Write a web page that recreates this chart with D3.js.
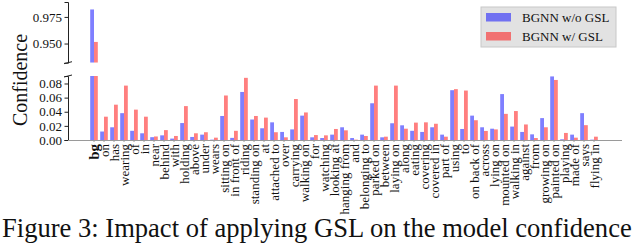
<!DOCTYPE html>
<html>
<head>
<meta charset="utf-8">
<script src="https://cdn.jsdelivr.net/npm/d3@7"></script>
<style>
  body { margin: 0; background: #fff; }
  svg { display: block; font-family: "Liberation Serif", "Times New Roman", serif; }
</style>
</head>
<body>
<div id="chart"></div>
<script>
// chart data
const categories = ["bg", "on", "has", "wearing", "of", "in", "near", "behind", "with", "holding",
  "above", "under", "wears", "sitting on", "in front of", "riding", "standing on", "at",
  "attached to", "over", "carrying", "walking on", "for", "watching", "looking at",
  "hanging from", "and", "belonging to", "parked on", "between", "laying on", "along",
  "eating", "covering", "covered in", "part of", "using", "to", "on back of", "across",
  "lying on", "mounted on", "walking in", "against", "from", "growing on", "painted on",
  "playing", "made of", "says", "flying in"];

const withoutGSL = [0.982, 0.012, 0.018, 0.038, 0.013, 0.0095, 0.004, 0.0066, 0.002, 0.024,
  0.0043, 0.0076, 0.0005, 0.034, 0.003, 0.068, 0.029, 0.0166,
  0.025, 0.0114, 0.015, 0.0345, 0.0038, 0.0028, 0.0076,
  0.018, 0.0028, 0.0076, 0.052, 0.0038, 0.0237, 0.0208,
  0.013, 0.0114, 0.018, 0.0076, 0.0705, 0.0156, 0.0345, 0.018,
  0.016, 0.065, 0.019, 0.0114, 0.008, 0.031, 0.090,
  0.001, 0.0076, 0.038, 0.0005];

const withGSL = [0.9515, 0.033, 0.050, 0.077, 0.043, 0.033, 0.005, 0.014, 0.0057, 0.048,
  0.0095, 0.011, 0.0033, 0.063, 0.013, 0.088, 0.034, 0.0317,
  0.011, 0.0038, 0.058, 0.039, 0.007, 0.0066, 0.0156,
  0.0137, 0.0005, 0.0057, 0.077, 0.0047, 0.077, 0.016,
  0.0246, 0.025, 0.023, 0.0047, 0.072, 0.070, 0.028, 0.0128,
  0.015, 0.037, 0.041, 0.022, 0.0028, 0.018, 0.085,
  0.010, 0.0033, 0.021, 0.0047];

const seriesNames = ["BGNN w/o GSL", "BGNN w/ GSL"];
const seriesColors = ["#0000ff", "#ff0000"];
const topTicks = [0.950, 0.975];
const lowTicks = [0, 0.02, 0.04, 0.06, 0.08];
const caption = "Figure 3: Impact of applying GSL on the model confidence";

let W = 640, H = 248;
let axisX = 68;

let svg = d3.select("#chart").append("svg")
  .attr("width", W)
  .attr("height", H);

let rows = categories.map((c, i) => ({cat: c, vals: [withoutGSL[i], withGSL[i]]}));

let xScale = d3.scaleBand()
  .domain(categories)
  .range([89, 599])
  .paddingInner(0.24)
  .paddingOuter(0.12);

let xSub = d3.scaleBand()
  .domain([0, 1])
  .range([0, xScale.bandwidth()]);

let yTop = d3.scaleLinear().domain([0.932, 0.989]).range([62.7, 2]);
let yLow = d3.scaleLinear().domain([0, 0.0906]).range([140, 76]);

// clip paths for the two panels
let defs = svg.append("defs");
defs.append("clipPath").attr("id", "clipTop")
  .append("rect").attr("x", axisX).attr("y", yTop.range()[1])
  .attr("width", W - axisX).attr("height", yTop.range()[0] - yTop.range()[1]);
defs.append("clipPath").attr("id", "clipLow")
  .append("rect").attr("x", axisX).attr("y", yLow.range()[1])
  .attr("width", W - axisX).attr("height", yLow.range()[0] - yLow.range()[1]);

function drawBars (yScale, clipId) {
  svg.append("g")
    .attr("clip-path", "url(#" + clipId + ")")
    .selectAll("g")
    .data(rows)
    .join("g")
    .attr("transform", d => "translate(" + xScale(d.cat) + ",0)")
    .selectAll("rect")
    .data(d => d.vals.map((v, k) => ({k: k, v: v})))
    .join("rect")
    .attr("x", d => xSub(d.k))
    .attr("width", xSub.bandwidth())
    .attr("y", d => Math.max(yScale(d.v), yScale.range()[1] - 2))
    .attr("height", d => Math.max(0, yScale.range()[0] - Math.max(yScale(d.v), yScale.range()[1] - 2)))
    .attr("fill", d => seriesColors[d.k])
    .attr("fill-opacity", 0.5);
}

drawBars(yTop, "clipTop");
drawBars(yLow, "clipLow");

// left axes
let topAxis = svg.append("g")
  .attr("transform", "translate(" + axisX + ",0)")
  .call(d3.axisLeft(yTop).tickValues(topTicks).tickFormat(d3.format(".3f")).tickSize(3.5).tickPadding(2.5));
let lowAxis = svg.append("g")
  .attr("transform", "translate(" + axisX + ",0)")
  .call(d3.axisLeft(yLow).tickValues(lowTicks).tickFormat(d3.format(".2f")).tickSize(3.5).tickPadding(2.5));

[topAxis, lowAxis].forEach(a => {
  a.select(".domain").attr("stroke", "#222").attr("stroke-width", 1);
  a.selectAll(".tick line").attr("stroke", "#222");
  a.selectAll(".tick text")
    .attr("font-family", "Liberation Serif")
    .attr("font-size", 13)
    .attr("fill", "#111");
});

// break marks
[[yTop.range()[0], 1], [yLow.range()[1], 1]].forEach(b => {
  svg.append("line")
    .attr("x1", axisX - 4).attr("y1", b[0] + 1)
    .attr("x2", axisX + 4).attr("y2", b[0] - 1)
    .attr("stroke", "#222").attr("stroke-width", 1);
});

// x axis (bottom)
let xAxis = svg.append("g")
  .attr("transform", "translate(0," + yLow(0) + ")")
  .call(d3.axisBottom(xScale).tickSize(2).tickPadding(2).tickSizeOuter(0));
xAxis.select(".domain").remove();
xAxis.insert("line", ":first-child")
  .attr("x1", axisX).attr("x2", 622)
  .attr("y1", 0.5).attr("y2", 0.5)
  .attr("stroke", "#9a9a9a").attr("stroke-width", 1.2);
xAxis.selectAll(".tick line").attr("stroke", "#9a9a9a");
xAxis.selectAll(".tick text")
  .attr("font-family", "Liberation Serif")
  .attr("font-size", 13)
  .attr("fill", "#111")
  .attr("text-anchor", "end")
  .attr("dy", "0.35em")
  .attr("transform", "translate(0,2) rotate(-90)")
  .attr("x", -2)
  .attr("y", 0)
  .attr("font-weight", d => d === "bg" ? "bold" : "normal")
  .attr("font-size", d => d === "bg" ? 15 : 13);

// y label
svg.append("text")
  .text("Confidence")
  .attr("transform", "translate(27,80) rotate(-90)")
  .attr("text-anchor", "middle")
  .attr("font-size", 20)
  .attr("fill", "#111");

// legend
let legend = svg.append("g").attr("transform", "translate(481,7)");
legend.append("rect")
  .attr("width", 135).attr("height", 40)
  .attr("fill", "#e2e2e2").attr("stroke", "#c8c8c8").attr("stroke-width", 1);
seriesNames.forEach((name, k) => {
  legend.append("rect")
    .attr("x", 5).attr("y", 6 + k * 19)
    .attr("width", 25).attr("height", 8.5)
    .attr("fill", seriesColors[k]).attr("fill-opacity", 0.5);
  legend.append("text")
    .attr("x", 41).attr("y", 14.5 + k * 19)
    .attr("font-size", 13)
    .attr("fill", "#111")
    .text(name);
});

// caption
let cap = svg.append("text")
  .text(caption)
  .attr("x", 2).attr("y", 237)
  .attr("font-size", 22)
  .attr("fill", "#111");
let capLen = cap.node().getComputedTextLength();
cap.attr("font-size", 22 * 630 / capLen);
</script>
</body>
</html>
